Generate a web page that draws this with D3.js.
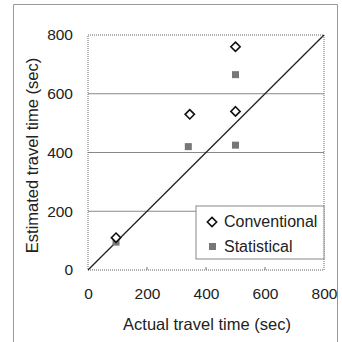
<!DOCTYPE html>
<html>
<head>
<meta charset="utf-8">
<script src="https://cdn.jsdelivr.net/npm/d3@7"></script>
<style>
  body { margin: 0; background: #fff; }
  text { font-family: "Liberation Sans", "DejaVu Sans", sans-serif; fill: #222; }
</style>
</head>
<body>
<div id="chart"></div>
<script>
// data
const conventionalX = [95, 345, 500, 500];
const conventionalY = [110, 530, 540, 760];
const statisticalX = [95, 340, 500, 500];
const statisticalY = [95, 420, 425, 665];
const ticks = [0, 200, 400, 600, 800];
const gridLines = [200, 400, 600];

const W = 342, H = 342;
const margin = {left: 88, top: 35, right: 18, bottom: 72};

const svg = d3.select('#chart').append('svg').attr('width', W).attr('height', H);

// outer frame (bottom edge cut off)
svg.append('path')
  .attr('d', 'M13.5,342 V4.5 H337.5 V342')
  .attr('fill', 'none').attr('stroke', '#999').attr('stroke-width', 1);

const x = d3.scaleLinear().domain([0, 800]).range([margin.left, W - margin.right]);
const y = d3.scaleLinear().domain([0, 800]).range([H - margin.bottom, margin.top]);

// grid
svg.selectAll('line.grid').data(gridLines).enter().append('line')
  .attr('class', 'grid')
  .attr('x1', x(0)).attr('x2', x(800))
  .attr('y1', function(d) { return y(d); }).attr('y2', function(d) { return y(d); })
  .attr('stroke', '#888').attr('stroke-width', 1);

// plot border, dotted
svg.append('rect')
  .attr('x', x(0)).attr('y', y(800))
  .attr('width', x(800) - x(0)).attr('height', y(0) - y(800))
  .attr('fill', 'none').attr('stroke', '#666').attr('stroke-dasharray', '1,1');

// axes
const xAxis = d3.axisBottom(x).tickValues(ticks).tickSize(0).tickPadding(18);
const yAxis = d3.axisLeft(y).tickValues(ticks).tickSize(0).tickPadding(15);
svg.append('g').attr('transform', 'translate(0,' + y(0) + ')').call(xAxis)
  .call(function(g) { g.select('.domain').remove(); })
  .selectAll('text').style('font-size', '15.5px');
svg.append('g').attr('transform', 'translate(' + x(0) + ',0)').call(yAxis)
  .call(function(g) { g.select('.domain').remove(); })
  .selectAll('text').style('font-size', '15.5px');

// small ticks along bottom
svg.selectAll('line.xt').data([200, 400, 600]).enter().append('line')
  .attr('x1', function(d) { return x(d); }).attr('x2', function(d) { return x(d); })
  .attr('y1', y(0)).attr('y2', y(0) - 3).attr('stroke', '#777');

svg.append('text').attr('x', (x(0) + x(800)) / 2 + 1).attr('y', 330)
  .attr('text-anchor', 'middle').style('font-size', '16.5px')
  .text('Actual travel time (sec)');
svg.append('text')
  .attr('transform', 'translate(38,' + ((y(0) + y(800)) / 2 + 3) + ') rotate(-90)')
  .attr('text-anchor', 'middle').style('font-size', '16.5px')
  .text('Estimated travel time (sec)');

// 1:1 line
svg.append('line')
  .attr('x1', x(0)).attr('y1', y(0)).attr('x2', x(800)).attr('y2', y(800))
  .attr('stroke', '#222').attr('stroke-width', 1.3);

const statistical = statisticalX.map(function(v, i) { return [v, statisticalY[i]]; });
const conventional = conventionalX.map(function(v, i) { return [v, conventionalY[i]]; });

svg.selectAll('rect.stat').data(statistical).enter().append('rect')
  .attr('class', 'stat')
  .attr('x', function(d) { return x(d[0]) - 3.5; }).attr('y', function(d) { return y(d[1]) - 3.5; })
  .attr('width', 7).attr('height', 7).attr('fill', '#777');

const diamond = d3.symbol().type(d3.symbolDiamond2).size(55);
svg.selectAll('path.conv').data(conventional).enter().append('path')
  .attr('class', 'conv')
  .attr('d', diamond)
  .attr('transform', function(d) { return 'translate(' + x(d[0]) + ',' + y(d[1]) + ')'; })
  .attr('fill', '#fff').attr('stroke', '#111').attr('stroke-width', 1.6);

// legend
const lg = svg.append('g').attr('transform', 'translate(196,206)');
lg.append('rect').attr('width', x(800) - 196).attr('height', 53)
  .attr('fill', '#fff').attr('stroke', '#888');
lg.append('path').attr('d', diamond).attr('transform', 'translate(16,16)')
  .attr('fill', '#fff').attr('stroke', '#111').attr('stroke-width', 1.6);
lg.append('text').attr('x', 28).attr('y', 21).style('font-size', '16px').text('Conventional');
lg.append('rect').attr('x', 13).attr('y', 37).attr('width', 7).attr('height', 7).attr('fill', '#777');
lg.append('text').attr('x', 28).attr('y', 46).style('font-size', '16px').text('Statistical');
</script>
</body>
</html>
